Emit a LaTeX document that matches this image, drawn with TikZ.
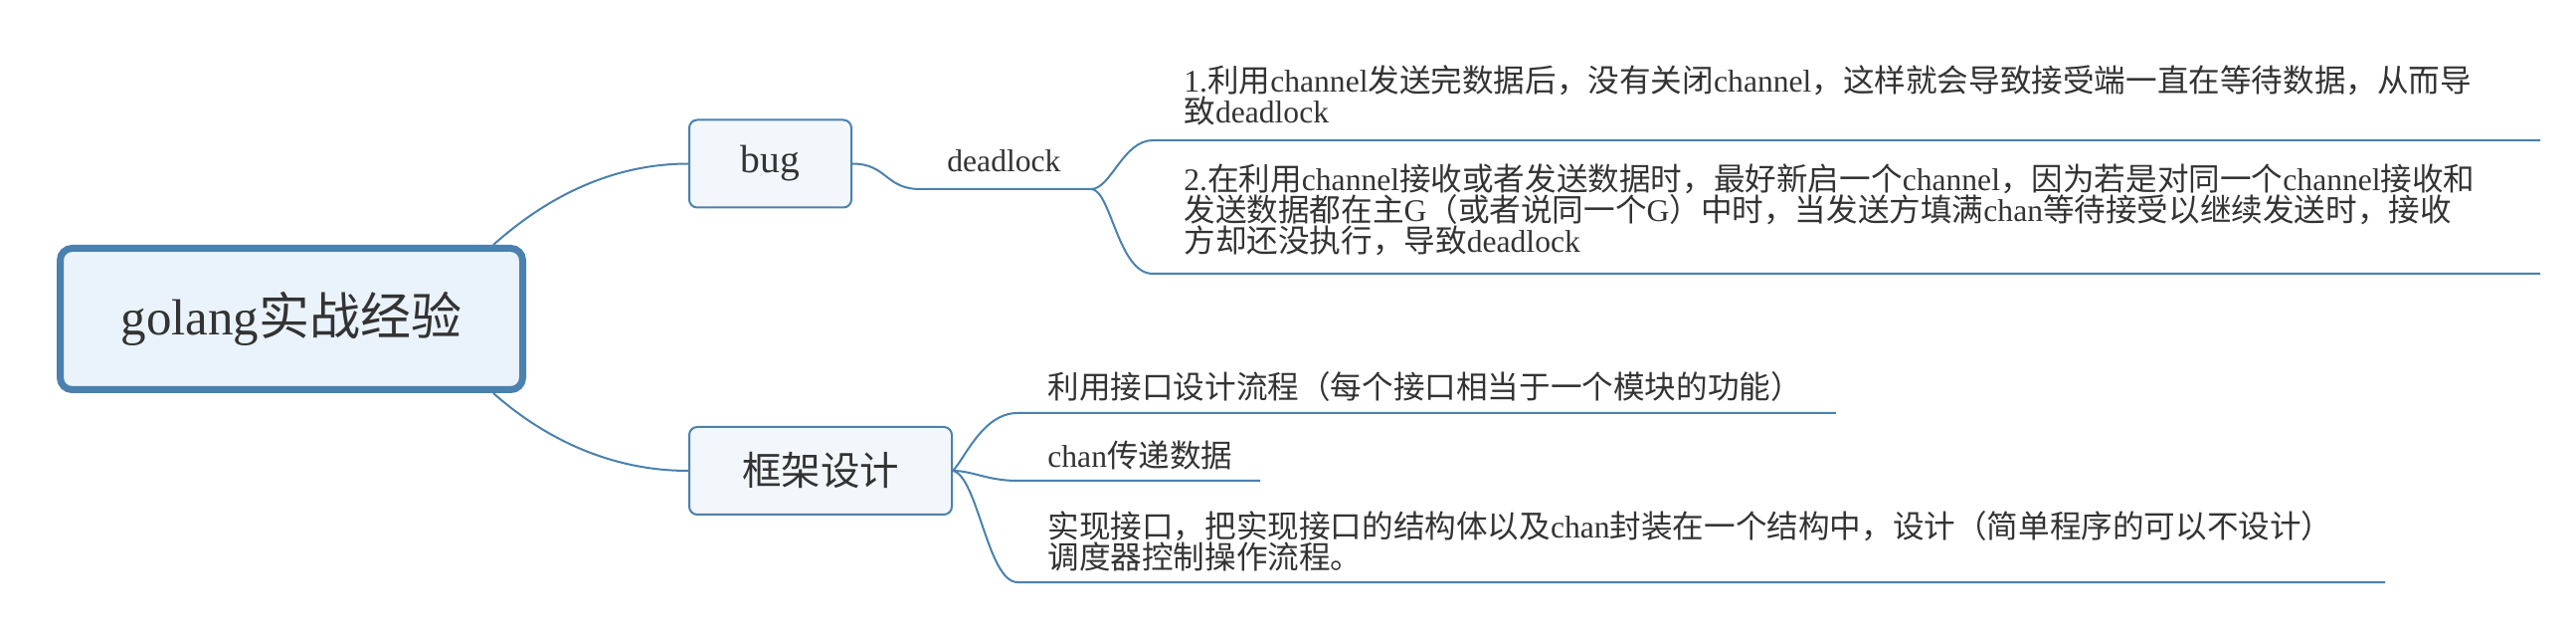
\documentclass[tikz,border=0pt]{standalone}
\usepackage{fontspec}
\setmainfont{Noto Sans CJK SC}
\newfontfamily\lat{Liberation Serif}
\definecolor{lnblue}{HTML}{4A81AE}
\definecolor{rootfill}{HTML}{EAF2FB}
\definecolor{subfill}{HTML}{F3F7FC}
\definecolor{txt}{HTML}{333333}
\lineskiplimit=-100pt
\lineskip=0pt
\begin{document}
\begin{tikzpicture}[x=0.5pt,y=-0.5pt,
  conn/.style={draw=lnblue,line width=1pt},
  rootbox/.style={draw=lnblue,fill=rootfill,line width=3.5pt,rounded corners=6pt,minimum width=232.5pt,minimum height=71pt,inner sep=0pt,text=txt,font=\fontsize{25.5pt}{30pt}\selectfont},
  topicbox/.style={draw=lnblue,fill=subfill,line width=1pt,rounded corners=4pt,minimum height=44pt,inner sep=0pt,text=txt,font=\fontsize{19.75pt}{24pt}\selectfont},
  leaf/.style={anchor=base west,inner sep=0pt,text=txt,align=left,text width=720pt,font=\fontsize{15.8pt}{15.5pt}\selectfont},
]
\useasboundingbox (0,0) rectangle (2590,640);

\node[rootbox] (root) at (293,320.5) {{\lat golang}实战经验};
\node[topicbox,minimum width=81.5pt] (bug) at (774.5,164.5) {\lat bug};
\node[topicbox,minimum width=132pt] (fw) at (825,473) {框架设计};

\node[leaf] (dl) at (952,173) {\lat deadlock};
\node[leaf] (t1) at (1190,93) {{\lat 1.}利用{\lat channel}发送完数据后，没有关闭{\lat channel}，这样就会导致接受端一直在等待数据，从而导\\致{\lat deadlock}};
\node[leaf] (t2) at (1190,192) {{\lat 2.}在利用{\lat channel}接收或者发送数据时，最好新启一个{\lat channel}，因为若是对同一个{\lat channel}接收和\\发送数据都在主{\lat G}（或者说同一个{\lat G}）中时，当发送方填满{\lat chan}等待接受以继续发送时，接收\\方却还没执行，导致{\lat deadlock}};
\node[leaf] (f1) at (1053,401) {利用接口设计流程（每个接口相当于一个模块的功能）};
\node[leaf] (f2) at (1053,470) {{\lat chan}传递数据};
\node[leaf] (f3) at (1053,540) {实现接口，把实现接口的结构体以及{\lat chan}封装在一个结构中，设计（简单程序的可以不设计）\\调度器控制操作流程。};

\coordinate (dls) at (925,190);
\coordinate (dlb) at (1097,190);
\coordinate (t1s) at (1159,141);
\coordinate (t1e) at (2554,141);
\coordinate (t2s) at (1159,275);
\coordinate (t2e) at (2554,275);
\coordinate (f1s) at (1023,415);
\coordinate (f1e) at (1846,415);
\coordinate (f2s) at (1023,483);
\coordinate (f2e) at (1267,483);
\coordinate (f3s) at (1023,585);
\coordinate (f3e) at (2398,585);

\draw[conn] ([xshift=-16.5pt]root.north east) .. controls +(36,-32) and +(-93,0) .. (bug.west);
\draw[conn] ([xshift=-16.5pt]root.south east) .. controls +(36,32) and +(-93,0) .. (fw.west);
\draw[conn] (bug.east) .. controls +(35,0) and +(-35,0) .. (dls) -- (dlb);
\draw[conn] (dlb) .. controls +(20,0) and +(-30,0) .. (t1s) -- (t1e);
\draw[conn] (dlb) .. controls +(20,0) and +(-35,0) .. (t2s) -- (t2e);
\draw[conn] (fw.east) .. controls +(12,-12) and +(-35,0) .. (f1s) -- (f1e);
\draw[conn] (fw.east) .. controls +(20,0) and +(-30,0) .. (f2s) -- (f2e);
\draw[conn] (fw.east) .. controls +(25,5) and +(-30,0) .. (f3s) -- (f3e);
\end{tikzpicture}
\end{document}
